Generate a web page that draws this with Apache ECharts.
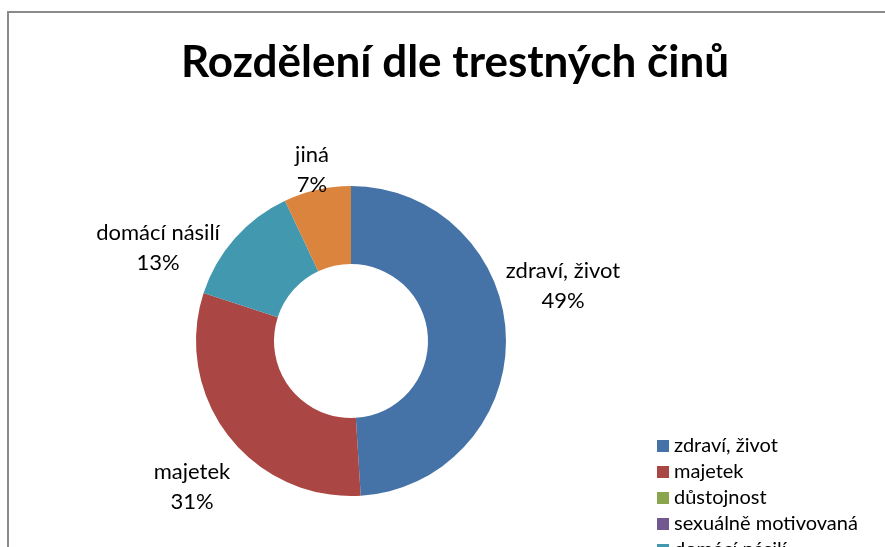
<!DOCTYPE html>
<html>
<head>
<meta charset="utf-8">
<script src="https://cdn.jsdelivr.net/npm/echarts@6/dist/echarts.min.js"></script>
<style>
  html, body { margin: 0; padding: 0; background: #fff; }
  #chart { width: 885px; height: 547px; }
</style>
</head>
<body>
<div id="chart"></div>
<script>
// data (percent shares)
var categories = ['zdraví, život', 'majetek', 'důstojnost', 'sexuálně motivovaná', 'domácí násilí', 'jiná'];
var values = [49, 31, 0, 0, 13, 7];
var colors = ['#4572A7', '#AA4643', '#89A54E', '#71588F', '#4198AF', '#DB843D'];

var chart = echarts.init(document.getElementById('chart'));

// where Excel put each data label (centre of the two-line block)
var labelPos = [[563, 286], [192, 487], null, null, [158, 248], [312, 170]];

var option = {
  animation: false,
  color: colors,
  title: {
    text: 'Rozdělení dle trestných činů',
    left: 450,
    top: 36,
    textAlign: 'center',
    textStyle: { fontFamily: 'Lato', fontWeight: 'bold', fontSize: 44, color: '#000' }
  },
  legend: {
    orient: 'vertical',
    left: 652,
    top: 431,
    height: 400,
    itemWidth: 12,
    itemHeight: 12,
    itemGap: 6,
    icon: 'rect',
    data: categories,
    textStyle: { fontFamily: 'Lato', fontSize: 20, lineHeight: 20, color: '#000' }
  },
  graphic: [{
    type: 'polyline',
    shape: { points: [[8, 547], [8, 12], [885, 12]] },
    style: { stroke: '#8a8a8a', lineWidth: 2, fill: null }
  }],
  series: [{
    type: 'pie',
    center: [351, 341],
    radius: [77, 155],
    startAngle: 90,
    clockwise: true,
    percentPrecision: 0,
    itemStyle: { borderWidth: 0 },
    label: {
      show: true,
      position: 'outside',
      fontFamily: 'Lato',
      fontSize: 22,
      lineHeight: 30,
      color: '#000',
      formatter: function (p) {
        return p.value === 0 ? '' : p.name + '\n' + p.percent + '%';
      }
    },
    labelLine: { show: false },
    labelLayout: function (p) {
      var pos = labelPos[p.dataIndex];
      if (!pos) return {};
      return { x: pos[0], y: pos[1], align: 'center', verticalAlign: 'middle' };
    },
    data: categories.map(function (c, i) {
      return { name: c, value: values[i] };
    })
  }]
};

chart.setOption(option);
</script>
</body>
</html>
